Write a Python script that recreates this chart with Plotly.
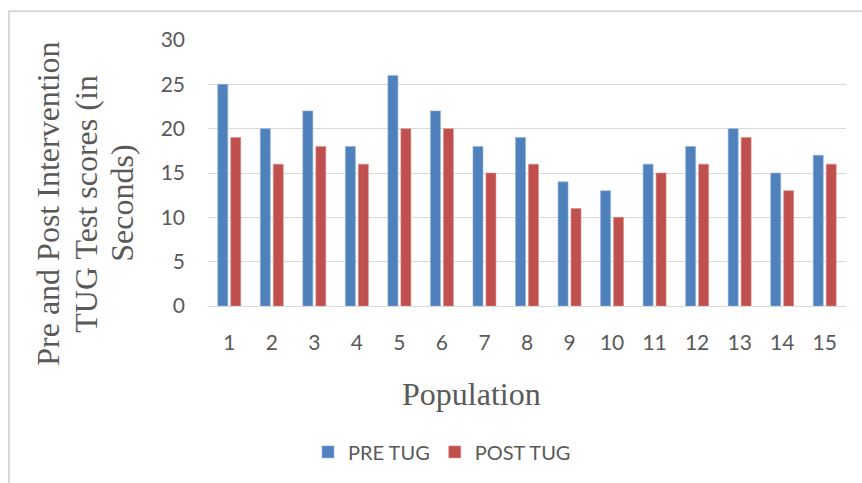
import plotly.graph_objects as go

categories = [str(i) for i in range(1, 16)]
pre_tug = [25, 20, 22, 18, 26, 22, 18, 19, 14, 13, 16, 18, 20, 15, 17]
post_tug = [19, 16, 18, 16, 20, 20, 15, 16, 11, 10, 15, 16, 19, 13, 16]
y_ticks = [0, 5, 10, 15, 20, 25, 30]
y_title_lines = ["Pre and Post Intervention", "TUG Test scores (in", "Seconds)"]
x_title = "Population"

W, H = 862, 483
L, R, T, B = 208, 846, 40, 308  # plot area in pixels

def px(x):
    return (x - L) / (R - L)

def py(y):
    return (B - y) / (B - T)

grey = "#595959"
tick_font = dict(family="Lato, Open Sans, sans-serif", size=21, color=grey)
serif = dict(family="Liberation Serif, Times New Roman, serif", size=32, color=grey)

fig = go.Figure()
fig.add_trace(go.Bar(x=categories, y=pre_tug, name="PRE TUG",
                     marker=dict(color="#4F81BD", line=dict(color="#8fb0d8", width=0.6))))
fig.add_trace(go.Bar(x=categories, y=post_tug, name="POST TUG",
                     marker=dict(color="#C0504D", line=dict(color="#d98f8d", width=0.6))))

annotations = []
for xc, line in zip([48, 86, 122], y_title_lines):
    annotations.append(dict(text=line, x=px(xc), y=py(205), xref="paper", yref="paper",
                            xanchor="center", yanchor="middle", textangle=-90,
                            showarrow=False, font=serif))
annotations.append(dict(text=x_title, x=px(471), y=py(397), xref="paper", yref="paper",
                        xanchor="center", yanchor="middle", showarrow=False, font=serif))

fig.update_layout(
    width=W, height=H,
    margin=dict(l=L, r=W - R, t=T, b=H - B, pad=0),
    paper_bgcolor="white", plot_bgcolor="white",
    barmode="group", bargap=0.39, bargroupgap=0.23,
    showlegend=True,
    legend=dict(orientation="h", x=px(442), y=py(455), xanchor="center", yanchor="middle",
                font=dict(family="Lato, Open Sans, sans-serif", size=20, color=grey),
                itemwidth=30, tracegroupgap=0),
    annotations=annotations,
    shapes=[dict(type="rect", xref="paper", yref="paper",
                 x0=px(9), x1=px(875), y0=py(495), y1=py(11),
                 line=dict(color="#D9D9D9", width=2), layer="below")],
    xaxis=dict(showline=True, linecolor="#D9D9D9", linewidth=1, showgrid=False,
               tickfont=tick_font, ticks="", ticklabelstandoff=18),
    yaxis=dict(range=[0, 30], tickvals=y_ticks, showgrid=True, gridcolor="#D9D9D9",
               gridwidth=1, zeroline=False, showline=False, tickfont=tick_font,
               ticks="", ticklabelstandoff=22),
)

fig.write_html("out.html")
